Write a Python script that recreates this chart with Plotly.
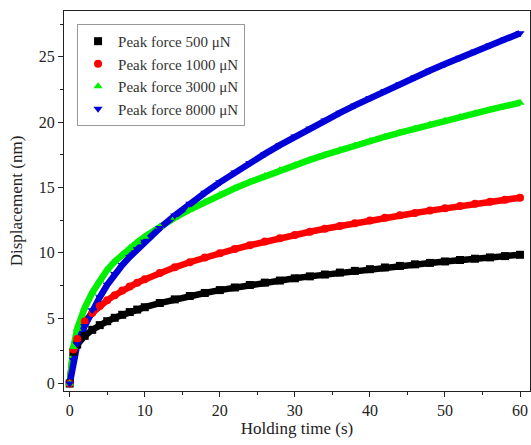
import plotly.graph_objects as go

time_s = [0, 0.5, 1, 2, 3, 4, 5, 6, 7, 8, 9, 10, 12, 14, 16, 18, 20, 22, 24, 26, 28, 30,
          32, 34, 36, 38, 40, 42, 44, 46, 48, 50, 52, 54, 56, 58, 60]

disp_500 = [0, 2.43, 2.98, 3.65, 4.11, 4.47, 4.77, 5.03, 5.26, 5.47, 5.66, 5.84, 6.16, 6.44,
            6.70, 6.93, 7.15, 7.35, 7.54, 7.72, 7.88, 8.05, 8.20, 8.34, 8.49, 8.62, 8.75,
            8.88, 9.00, 9.12, 9.23, 9.34, 9.45, 9.55, 9.65, 9.75, 9.85]
disp_1000 = [0, 2.6, 3.4, 4.74, 5.40, 5.93, 6.37, 6.76, 7.11, 7.42, 7.71, 7.97, 8.46, 8.89,
             9.28, 9.64, 9.97, 10.29, 10.58, 10.86, 11.12, 11.37, 11.61, 11.84, 12.06, 12.27,
             12.48, 12.68, 12.87, 13.05, 13.23, 13.41, 13.58, 13.75, 13.91, 14.07, 14.22]
disp_3000 = [0, 2.8, 4.2, 5.8, 6.95, 7.9, 8.7, 9.33, 9.87, 10.36, 10.81, 11.23, 12.00, 12.69,
             13.31, 13.89, 14.43, 14.94, 15.42, 15.87, 16.31, 16.72, 17.11, 17.49, 17.86,
             18.21, 18.55, 18.88, 19.20, 19.51, 19.82, 20.11, 20.40, 20.68, 20.95, 21.22, 21.48]
disp_8000 = [0, 1.8, 3.0, 4.4, 5.6, 6.6, 7.55, 8.38, 9.06, 9.69, 10.28, 10.84, 11.89, 12.85,
             13.75, 14.59, 15.39, 16.15, 16.87, 17.57, 18.24, 18.89, 19.51, 20.12, 20.71,
             21.28, 21.84, 22.38, 22.92, 23.43, 23.95, 24.44, 24.93, 25.41, 25.88, 26.35, 26.80]

series_names = ["Peak force 500 μN", "Peak force 1000 μN", "Peak force 3000 μN", "Peak force 8000 μN"]
series_values = [disp_500, disp_1000, disp_3000, disp_8000]
colors = ["#000000", "#ff0000", "#00f000", "#0000d8"]
symbols = ["square", "circle", "triangle-up", "triangle-down"]

x_ticks = [0, 10, 20, 30, 40, 50, 60]
y_ticks = [0, 5, 10, 15, 20, 25]

FONT = "Liberation Serif, Times New Roman, serif"

fig = go.Figure()
for name, vals, col, sym in zip(series_names, series_values, colors, symbols):
    fig.add_trace(go.Scatter(x=time_s, y=vals, mode="lines", showlegend=False,
                             line=dict(color=col, width=6.5), hoverinfo="skip"))
for name, vals, col, sym in zip(series_names, series_values, colors, symbols):
    fig.add_trace(go.Scatter(x=time_s, y=vals, mode="markers", name=name,
                             marker=dict(color=col, symbol=sym, size=8, line=dict(width=0))))

axis_common = dict(
    showgrid=False, zeroline=False, showline=True, linecolor="#222", linewidth=1.3,
    mirror=True, ticks="outside", ticklen=5, tickwidth=1.2, tickcolor="#222",
    tickfont=dict(family=FONT, size=16, color="#222"),
)

fig.update_xaxes(range=[-0.76, 61.33], tickvals=x_ticks,
                 minor=dict(ticks="outside", ticklen=3, tickwidth=1, tickcolor="#222", dtick=5, tick0=5),
                 title=dict(text="Holding time (s)", font=dict(family=FONT, size=17, color="#222"), standoff=3),
                 **axis_common)
fig.update_yaxes(range=[-0.57, 28.5], tickvals=y_ticks,
                 minor=dict(ticks="outside", ticklen=3, tickwidth=1, tickcolor="#222", dtick=5, tick0=2.5),
                 title=dict(text="Displacement (nm)", font=dict(family=FONT, size=17, color="#222"), standoff=11),
                 **axis_common)

fig.update_layout(
    width=531, height=445,
    margin=dict(l=64, r=1, t=11, b=54),
    paper_bgcolor="white", plot_bgcolor="white",
    font=dict(family=FONT, color="#222"),
    legend=dict(x=0.028, y=0.966, xanchor="left", yanchor="top",
                bgcolor="white", bordercolor="#999", borderwidth=1,
                font=dict(family=FONT, size=15, color="#333"),
                itemwidth=30, tracegroupgap=0),
)

fig.write_html("out.html", config={"displayModeBar": False},
               post_script="document.body.style.margin='0px';")
